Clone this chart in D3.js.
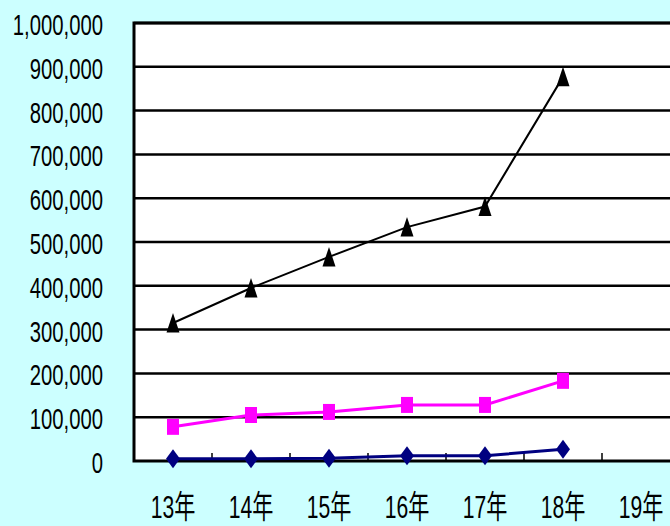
<!DOCTYPE html>
<html>
<head>
<meta charset="utf-8">
<script src="https://cdn.jsdelivr.net/npm/d3@7/dist/d3.min.js"></script>
<style>
  html, body { margin: 0; padding: 0; background: #CCFFFF; }
  svg { display: block; }
  text { font-family: "Liberation Sans", "Noto Sans CJK JP", sans-serif; fill: #000; }
</style>
</head>
<body>
<svg id="chart" width="670" height="526"></svg>
<script>
// Years on the category axis (the last one has no data yet)
const years = ["13年", "14年", "15年", "16年", "17年", "18年", "19年"];
// Value-axis ticks
const yTicks = [0, 100000, 200000, 300000, 400000, 500000, 600000, 700000, 800000, 900000, 1000000];
// Three series, one value per year 13年–18年
const seriesDiamond = [5000, 5000, 6000, 12000, 12000, 27000];
const seriesSquare = [78000, 105000, 112000, 128000, 128000, 183000];
const seriesTriangle = [315000, 395000, 466000, 534000, 581000, 877000];

const W = 670, H = 526;
const plot = { left: 134, top: 23, right: 680, bottom: 461 };

const svg = d3.select("#chart");

const x = d3.scaleBand().domain(years).range([plot.left, plot.right]).padding(0);
const y = d3.scaleLinear().domain([0, 1000000]).range([plot.bottom, plot.top]);

// Plot background
svg.append("rect")
  .attr("x", plot.left).attr("y", plot.top)
  .attr("width", plot.right - plot.left).attr("height", plot.bottom - plot.top)
  .attr("fill", "#fff");

// Horizontal gridlines
svg.append("g").selectAll("line").data(yTicks.filter(d => d > 0)).join("line")
  .attr("x1", plot.left).attr("x2", plot.right)
  .attr("y1", d => y(d)).attr("y2", d => y(d))
  .attr("stroke", "#000").attr("stroke-width", 2.5);

// Frame: left, top and bottom edges
svg.append("path")
  .attr("d", `M${plot.right},${plot.top}H${plot.left}V${plot.bottom}H${plot.right}`)
  .attr("fill", "none").attr("stroke", "#000").attr("stroke-width", 3);

// Category boundary ticks on the bottom axis, pointing inward
const bounds = years.slice(1).map(d => x(d));
svg.append("g").selectAll("line").data(bounds).join("line")
  .attr("x1", d => d).attr("x2", d => d)
  .attr("y1", plot.bottom).attr("y2", plot.bottom - 8)
  .attr("stroke", "#000").attr("stroke-width", 1.5);

// Value labels
const fmt = d3.format(",");
svg.append("g").selectAll("text").data(yTicks).join("text")
  .attr("text-anchor", "end")
  .attr("transform", d => `translate(103,${y(d) + 12}) scale(0.7,1)`)
  .attr("font-size", 29)
  .text(d => fmt(d));

// Category labels
svg.append("g").selectAll("text").data(years).join("text")
  .attr("text-anchor", "middle")
  .attr("transform", d => `translate(${x(d) + x.bandwidth() / 2},518) scale(0.66,1)`)
  .attr("font-size", 32)
  .text(d => d);

const cx = (d, i) => x(years[i]) + x.bandwidth() / 2;
const line = d3.line().x((d, i) => cx(d, i)).y(d => y(d));

function drawSeries(values, color, width, shape) {
  svg.append("path").datum(values)
    .attr("d", line).attr("fill", "none")
    .attr("stroke", color).attr("stroke-width", width);
  svg.append("g").selectAll("path").data(values).join("path")
    .attr("transform", (d, i) => `translate(${cx(d, i)},${y(d)})`)
    .attr("d", shape)
    .attr("fill", color);
}

const diamond = "M0,-9.5L7,0L0,9.5L-7,0Z";
const square = "M-6,-8H6V8H-6Z";
const triangle = "M0,-10L6.5,9.5H-6.5Z";

drawSeries(seriesDiamond, "#000080", 3, diamond);
drawSeries(seriesSquare, "#FF00FF", 3, square);
drawSeries(seriesTriangle, "#000", 2, triangle);
</script>
</body>
</html>
